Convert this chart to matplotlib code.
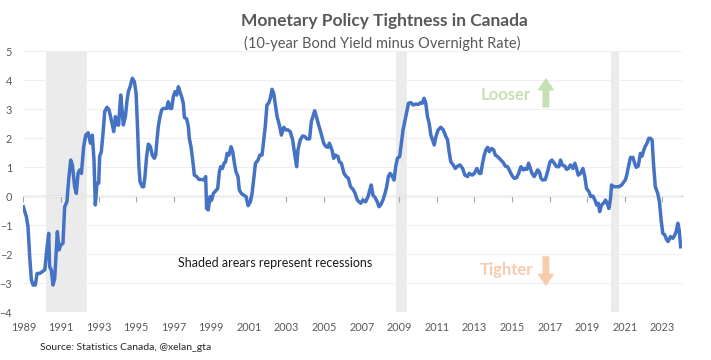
#!/usr/bin/env python3
'''
Monetary policy tightness in Canada:
10-year bond yield minus overnight rate, with recessions shaded.
'''
import matplotlib
matplotlib.use('Agg')
import matplotlib.pyplot as plt

# decimal year / spread (percentage points)
years = [
    1989.00, 1989.16, 1989.25, 1989.34, 1989.43, 1989.52, 1989.64, 1989.73, 1989.87,
    1990.14, 1990.23, 1990.35, 1990.40, 1990.49, 1990.58, 1990.67, 1990.81, 1990.90,
    1990.99, 1991.11, 1991.20, 1991.32, 1991.41, 1991.52, 1991.61, 1991.73, 1991.82,
    1991.91, 1992.00, 1992.09, 1992.21, 1992.32, 1992.45, 1992.57, 1992.67, 1992.76,
    1992.83, 1992.92, 1993.01, 1993.06, 1993.15, 1993.24, 1993.33, 1993.45, 1993.56,
    1993.68, 1993.81, 1993.90, 1993.98, 1994.07, 1994.18, 1994.27, 1994.32, 1994.43,
    1994.52, 1994.59, 1994.68, 1994.80, 1994.91, 1995.00, 1995.08, 1995.15, 1995.21,
    1995.33, 1995.40, 1995.47, 1995.56, 1995.65, 1995.76, 1995.86, 1995.97, 1996.04,
    1996.11, 1996.18, 1996.27, 1996.36, 1996.45, 1996.63, 1996.71, 1996.80, 1996.89,
    1996.98, 1997.07, 1997.16, 1997.25, 1997.33, 1997.42, 1997.51, 1997.57, 1997.69,
    1997.78, 1997.83, 1997.92, 1998.01, 1998.10, 1998.22, 1998.35, 1998.49, 1998.61,
    1998.70, 1998.75, 1998.84, 1998.93, 1999.02, 1999.11, 1999.20, 1999.34, 1999.43,
    1999.50, 1999.59, 1999.68, 1999.76, 1999.84, 1999.94, 2000.05, 2000.14, 2000.23,
    2000.31, 2000.42, 2000.49, 2000.60, 2000.72, 2000.85, 2000.96, 2001.08, 2001.17,
    2001.26, 2001.35, 2001.49, 2001.58, 2001.70, 2001.79, 2001.87, 2001.96, 2002.05,
    2002.14, 2002.23, 2002.32, 2002.41, 2002.50, 2002.62, 2002.73, 2002.85, 2002.97,
    2003.08, 2003.20, 2003.33, 2003.43, 2003.54, 2003.61, 2003.73, 2003.86, 2003.97,
    2004.09, 2004.23, 2004.32, 2004.43, 2004.50, 2004.59, 2004.71, 2004.84, 2004.98,
    2005.10, 2005.21, 2005.28, 2005.42, 2005.51, 2005.60, 2005.74, 2005.81, 2005.92,
    2006.06, 2006.18, 2006.29, 2006.41, 2006.54, 2006.65, 2006.77, 2006.95, 2007.07,
    2007.21, 2007.34, 2007.43, 2007.51, 2007.60, 2007.71, 2007.83, 2007.92, 2008.01,
    2008.13, 2008.24, 2008.33, 2008.42, 2008.51, 2008.60, 2008.72, 2008.81, 2008.90,
    2009.02, 2009.11, 2009.20, 2009.31, 2009.40, 2009.49, 2009.61, 2009.74, 2009.88,
    2010.02, 2010.14, 2010.23, 2010.32, 2010.41, 2010.50, 2010.59, 2010.68, 2010.77,
    2010.86, 2010.95, 2011.07, 2011.21, 2011.34, 2011.48, 2011.57, 2011.65, 2011.74,
    2011.87, 2011.98, 2012.10, 2012.23, 2012.37, 2012.49, 2012.63, 2012.72, 2012.87,
    2012.99, 2013.13, 2013.26, 2013.34, 2013.43, 2013.52, 2013.61, 2013.70, 2013.79,
    2013.91, 2014.02, 2014.11, 2014.23, 2014.32, 2014.41, 2014.54, 2014.64, 2014.76,
    2014.85, 2014.94, 2015.03, 2015.12, 2015.24, 2015.35, 2015.47, 2015.60, 2015.70,
    2015.79, 2015.88, 2015.97, 2016.06, 2016.18, 2016.27, 2016.36, 2016.45, 2016.54,
    2016.63, 2016.77, 2016.89, 2017.02, 2017.12, 2017.25, 2017.34, 2017.40, 2017.49,
    2017.58, 2017.67, 2017.81, 2017.90, 2017.99, 2018.11, 2018.24, 2018.34, 2018.43,
    2018.52, 2018.64, 2018.77, 2018.87, 2018.96, 2019.09, 2019.18, 2019.30, 2019.41,
    2019.50, 2019.59, 2019.66, 2019.76, 2019.89, 2019.97, 2020.06, 2020.15, 2020.24,
    2020.29, 2020.42, 2020.54, 2020.68, 2020.83, 2020.95, 2021.04, 2021.12, 2021.21,
    2021.30, 2021.43, 2021.51, 2021.60, 2021.71, 2021.83, 2021.92, 2022.01, 2022.09,
    2022.18, 2022.27, 2022.36, 2022.45, 2022.53, 2022.62, 2022.75, 2022.84, 2022.93,
    2023.02, 2023.12, 2023.21, 2023.30, 2023.43, 2023.55, 2023.66, 2023.73, 2023.82,
    2023.89, 2023.97,
]
spread = [
    -0.37, -0.71, -1.06, -2.10, -2.90, -3.07, -3.07, -2.67, -2.67,
    -2.55, -1.98, -1.29, -2.44, -2.55, -3.07, -2.84, -1.23, -1.86,
    -1.69, -1.63, -0.37, -0.20, 0.55, 1.24, 1.07, 0.32, 0.09,
    0.78, 0.90, 0.78, 1.70, 2.10, 2.18, 1.82, 2.10, 1.24,
    -0.31, 0.44, 0.44, 1.36, 1.53, 2.16, 2.91, 3.06, 2.97,
    2.62, 2.22, 2.74, 2.45, 2.45, 3.48, 2.85, 2.45, 2.74,
    3.31, 3.60, 3.77, 4.06, 3.94, 3.54, 2.28, 1.01, 0.49,
    0.32, 0.32, 0.67, 1.36, 1.79, 1.70, 1.41, 1.30, 1.41,
    1.93, 2.39, 2.74, 2.97, 3.02, 3.02, 3.25, 3.02, 3.02,
    3.43, 3.60, 3.48, 3.77, 3.60, 3.43, 3.20, 2.71, 2.66,
    2.39, 1.99, 1.70, 1.24, 0.72, 0.67, 0.57, 0.57, 0.55,
    0.67, -0.43, -0.48, -0.02, -0.14, 0.09, 0.15, 0.26, 0.84,
    1.01, 0.95, 1.13, 1.18, 1.47, 1.41, 1.70, 1.53, 1.13,
    0.84, 0.67, 0.21, 0.09, 0.03, -0.02, -0.33, -0.20, 0.09,
    0.61, 1.13, 1.24, 1.41, 1.41, 1.93, 2.39, 3.14, 3.20,
    3.37, 3.68, 3.54, 3.14, 2.74, 2.45, 2.10, 2.37, 2.28,
    2.28, 2.22, 1.93, 1.47, 1.01, 1.59, 1.93, 2.07, 2.05,
    1.97, 1.97, 2.56, 2.79, 2.94, 2.74, 2.45, 2.16, 1.82,
    1.70, 1.68, 1.82, 1.59, 1.30, 1.41, 1.36, 1.18, 1.13,
    0.78, 0.67, 0.61, 0.32, 0.23, 0.09, -0.14, -0.25, -0.14,
    -0.20, -0.02, 0.21, 0.38, 0.03, -0.05, -0.20, -0.37, -0.31,
    -0.14, 0.09, 0.32, 0.67, 0.78, 0.72, 0.55, 1.01, 1.30,
    1.36, 1.82, 2.28, 2.62, 2.91, 3.20, 3.22, 3.14, 3.17,
    3.16, 3.22, 3.20, 3.37, 3.20, 2.74, 2.51, 2.10, 1.93,
    1.76, 2.05, 2.28, 2.37, 2.28, 2.05, 1.93, 1.53, 1.18,
    1.07, 0.95, 1.03, 1.07, 0.95, 0.72, 0.67, 0.78, 0.72,
    0.78, 0.95, 0.78, 0.78, 1.13, 1.41, 1.59, 1.68, 1.53,
    1.64, 1.59, 1.41, 1.36, 1.30, 1.24, 1.15, 1.03, 1.01,
    0.90, 0.78, 0.67, 0.61, 0.63, 0.78, 1.01, 0.90, 0.95,
    0.92, 1.13, 0.95, 0.78, 0.67, 0.78, 0.90, 0.84, 0.61,
    0.55, 0.57, 0.84, 1.18, 1.24, 1.13, 1.03, 1.01, 1.01,
    1.24, 1.07, 1.03, 0.92, 0.95, 1.07, 0.95, 1.13, 0.95,
    0.72, 0.78, 0.95, 0.67, 0.26, 0.15, -0.02, 0.00, -0.14,
    -0.31, -0.25, -0.54, -0.31, -0.23, -0.14, -0.25, -0.43, -0.08,
    0.38, 0.32, 0.32, 0.32, 0.38, 0.49, 0.57, 0.78, 1.07,
    1.33, 1.33, 1.15, 0.99, 1.03, 1.47, 1.38, 1.59, 1.72,
    1.82, 1.99, 1.99, 1.93, 1.07, 0.32, 0.09, -0.20, -0.83,
    -1.29, -1.34, -1.49, -1.57, -1.40, -1.46, -1.34, -1.23, -0.94,
    -1.17, -1.75,
]

recession_start = [1990.21, 2008.80, 2020.24]
recession_end = [1992.39, 2009.41, 2020.68]

tick_years = list(range(1989, 2024, 2))
y_ticks = list(range(-4, 6))

GREY_TXT = '#595959'
LINE_BLUE = '#4472C4'


def main():
    plt.rcParams['font.family'] = ['Lato', 'DejaVu Sans']

    fig = plt.figure(figsize=(7.11, 3.6), dpi=100)
    ax = fig.add_axes([0.0328, 0.1333, 0.9264, 0.725])
    ax.set_xlim(1989.0, 2024.04)
    ax.set_ylim(-4, 5)

    # recessions
    for start, end in zip(recession_start, recession_end):
        ax.axvspan(start, end, color='#EBEBEB', lw=0, zorder=0)

    # horizontal gridlines
    ax.set_yticks(y_ticks)
    ax.yaxis.grid(True, color='#EEEEEE', lw=0.8, zorder=0)
    ax.set_axisbelow(True)

    ax.plot(years, spread, color=LINE_BLUE, lw=2.5, zorder=3,
            solid_joinstyle='round')

    for s in ax.spines.values():
        s.set_visible(False)

    ax.set_xticks(tick_years)
    ax.set_xticklabels([str(y) for y in tick_years])
    ax.tick_params(axis='x', length=0, pad=7, labelsize=7.8, labelcolor=GREY_TXT)
    ax.tick_params(axis='y', length=0, pad=8, labelsize=7.8, labelcolor=GREY_TXT)

    # zero line with small tick marks, like the excel horizontal axis
    zero_pos = (0 - y_ticks[0]) / (y_ticks[-1] - y_ticks[0])
    sec = ax.secondary_xaxis(zero_pos)
    sec.set_xticks(tick_years)
    sec.tick_params(axis='x', length=4, width=0.8, color='#A6A6A6',
                    labelbottom=False, labeltop=False)
    for s in sec.spines.values():
        s.set_color('#A6A6A6')
        s.set_linewidth(0.9)

    # annotations
    arrow_style = 'simple,head_length=0.55,head_width=0.75,tail_width=0.28'
    ax.text(2014.68, 3.48, 'Looser', color='#C5E0B4', fontsize=12,
            fontweight='bold', ha='center', va='center')
    ax.annotate('', xy=(2016.8, 4.03), xytext=(2016.8, 3.07),
                arrowprops=dict(arrowstyle=arrow_style, color='#C5E0B4',
                                shrinkA=0, shrinkB=0, mutation_scale=14))
    ax.text(2014.73, -2.55, 'Tighter', color='#F8CBAD', fontsize=12,
            fontweight='bold', ha='center', va='center')
    ax.annotate('', xy=(2016.8, -3.07), xytext=(2016.8, -2.1),
                arrowprops=dict(arrowstyle=arrow_style, color='#F8CBAD',
                                shrinkA=0, shrinkB=0, mutation_scale=14))
    ax.text(1997.23, -2.3, 'Shaded arears represent recessions', color='#1A1A1A',
            fontsize=9, ha='left', va='center')

    fig.text(0.54, 0.943, 'Monetary Policy Tightness in Canada', color=GREY_TXT,
             fontsize=12.5, fontweight='bold', ha='center', va='center')
    fig.text(0.537, 0.88, '(10-year Bond Yield minus Overnight Rate)', color=GREY_TXT,
             fontsize=10.5, ha='center', va='center')
    fig.text(0.056, 0.036, 'Source: Statistics Canada, @xelan_gta', color='#262626',
             fontsize=7.5, ha='left', va='center')

    fig.savefig('out.png', dpi=100, facecolor='white')


if __name__ == '__main__':
    main()
